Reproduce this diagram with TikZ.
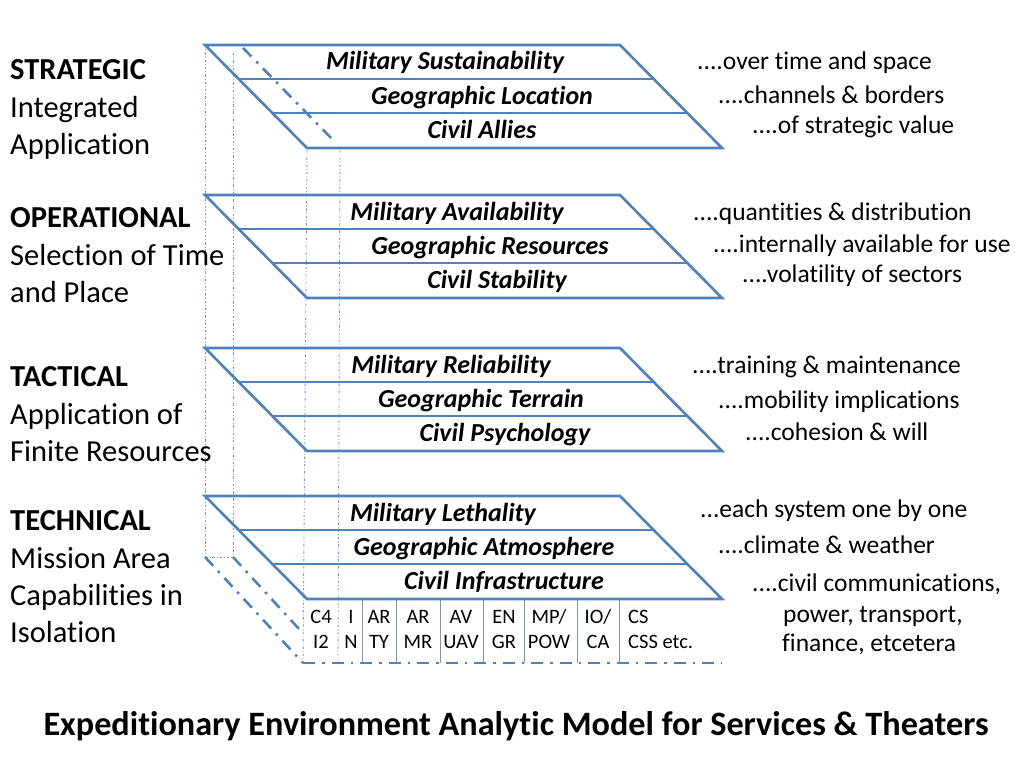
\documentclass[tikz,border=0pt]{standalone}
\usepackage{fontspec}
\setmainfont{Carlito}[Ligatures=NoCommon]
\definecolor{lineblue}{HTML}{4F81BD}
\definecolor{thinblue}{HTML}{7F9CC0}
\begin{document}
\begin{tikzpicture}[x=1pt,y=-1pt,
  layer/.style={draw=lineblue,line width=2.6pt,line join=miter},
  row/.style={draw=lineblue,line width=2.6pt},
  hidden/.style={draw=thinblue,line width=0.9pt,dash pattern=on 2.5pt off 2pt on 0.8pt off 2pt},
  thickdd/.style={draw=lineblue,line width=2.6pt,dash pattern=on 12pt off 7pt on 2.5pt off 7pt},
  divider/.style={draw=thinblue!80!gray,line width=0.9pt},
  lefthead/.style={anchor=base west,font=\fontsize{30.5}{32}\selectfont\bfseries,inner sep=0pt},
  leftsub/.style={anchor=base west,font=\fontsize{30.5}{32}\selectfont,inner sep=0pt},
  lab/.style={anchor=base,font=\fontsize{26}{28}\selectfont\bfseries\itshape,inner sep=0pt},
  rt/.style={anchor=base west,font=\fontsize{25.5}{27}\selectfont,inner sep=0pt},
  col/.style={anchor=base,font=\fontsize{20.5}{22}\selectfont,inner sep=0pt},
  colw/.style={anchor=base west,font=\fontsize{20.5}{22}\selectfont,inner sep=0pt},
  ttl/.style={anchor=base,font=\fontsize{34.2}{36}\selectfont\bfseries,inner sep=0pt}
]
\useasboundingbox[fill=white] (0,0) rectangle (1024,768);

% hidden vertical edges
\coordinate (va1) at (205,45);  \coordinate (va2) at (205,557);
\coordinate (vb1) at (233,53);  \coordinate (vb2) at (233,557);
\coordinate (vc1) at (307,150); \coordinate (vc2) at (303,663);
\coordinate (vd1) at (340,150); \coordinate (vd2) at (338,663);
\draw[hidden] (va1) -- (va2);
\draw[hidden] (vb1) -- (vb2);
\draw[hidden] (vc1) -- (vc2);
\draw[hidden] (vd1) -- (vd2);
\draw[hidden] (va2) -- (vb2);

% dash-dot in strategic layer
\coordinate (dd1) at (243,48); \coordinate (dd2) at (335,142);
\draw[thickdd] (dd1) -- (dd2);

% bottom box dash-dot lines
\coordinate (bd1) at (300,630);
\coordinate (bb1) at (303,663); \coordinate (bb2) at (722,663);
\draw[thickdd] (va2) -- (bb1);
\draw[thickdd] (vb2) -- (bd1);
\draw[thickdd] (bb1) -- (bb2);

% column dividers
\foreach \x/\n in {362/a,396/b,440/c,483/d,524/e,577/f,619/g}{
  \coordinate (dt\n) at (\x,598); \coordinate (db\n) at (\x,663);
  \draw[divider] (dt\n) -- (db\n);
}

% layers
\foreach \t/\n in {45/s,195/o,348/t,496/x}{
  \coordinate (\n1) at (205,\t);
  \coordinate (\n2) at (620,\t);
  \coordinate (\n3) at (722,\t+103);
  \coordinate (\n4) at (307,\t+103);
  \coordinate (\n5) at (239,\t+34);
  \coordinate (\n6) at (654,\t+34);
  \coordinate (\n7) at (273,\t+68);
  \coordinate (\n8) at (688,\t+68);
  \draw[layer] (\n1) -- (\n2) -- (\n3) -- (\n4) -- cycle;
  \draw[row] (\n5) -- (\n6);
  \draw[row] (\n7) -- (\n8);
}

% left labels
\node[lefthead] (L1) at (10,79) {STRATEGIC};
\node[leftsub] (L2) at (10,117) {Integrated};
\node[leftsub] (L3) at (10,154) {Application};
\node[lefthead] (L4) at (10,227) {OPERATIONAL};
\node[leftsub] (L5) at (10,265) {Selection of Time};
\node[leftsub] (L6) at (10,302) {and Place};
\node[lefthead] (L7) at (10,386) {TACTICAL};
\node[leftsub] (L8) at (10,424) {Application of};
\node[leftsub] (L9) at (10,461) {Finite Resources};
\node[lefthead] (L10) at (10,530) {TECHNICAL};
\node[leftsub] (L11) at (10,568) {Mission Area};
\node[leftsub] (L12) at (10,605) {Capabilities in};
\node[leftsub] (L13) at (10,642) {Isolation};

% layer labels
\node[lab] (S1) at (445,70) {Military Sustainability};
\node[lab] (S2) at (482,104) {Geographic Location};
\node[lab] (S3) at (482,138) {Civil Allies};
\node[lab] (O1) at (457,220) {Military Availability};
\node[lab] (O2) at (490,254) {Geographic Resources};
\node[lab] (O3) at (497,288) {Civil Stability};
\node[lab] (T1) at (451,373) {Military Reliability};
\node[lab] (T2) at (481,407) {Geographic Terrain};
\node[lab] (T3) at (505,441) {Civil Psychology};
\node[lab] (X1) at (443,521) {Military Lethality};
\node[lab] (X2) at (484,555) {Geographic Atmosphere};
\node[lab] (X3) at (504,589) {Civil Infrastructure};

% right texts
\node[rt] (R1) at (697,70) {....over time and space};
\node[rt] (R2) at (718,103) {....channels \& borders};
\node[rt] (R3) at (752,133) {....of strategic value};
\node[rt] (R4) at (693,220) {....quantities \& distribution};
\node[rt] (R5) at (713,252) {....internally available for use};
\node[rt] (R6) at (742,282) {....volatility of sectors};
\node[rt] (R7) at (692,373) {....training \& maintenance};
\node[rt] (R8) at (718,408) {....mobility implications};
\node[rt] (R9) at (745,440) {....cohesion \& will};
\node[rt] (R10) at (700,517) {...each system one by one};
\node[rt] (R11) at (718,553) {....climate \& weather};
\node[rt] (R12) at (752,591) {....civil communications,};
\node[rt] (R13) at (783,622) {power, transport,};
\node[rt] (R14) at (782,651) {finance, etcetera};

% column labels
\node[col] (C1a) at (321,623) {C4};  \node[col] (C1b) at (321,648) {I2};
\node[col] (C2a) at (351,623) {I};   \node[col] (C2b) at (351,648) {N};
\node[col] (C3a) at (379,623) {AR};  \node[col] (C3b) at (379,648) {TY};
\node[col] (C4a) at (418,623) {AR};  \node[col] (C4b) at (418,648) {MR};
\node[col] (C5a) at (461,623) {AV};  \node[col] (C5b) at (461,648) {UAV};
\node[col] (C6a) at (504,623) {EN};  \node[col] (C6b) at (504,648) {GR};
\node[col] (C7a) at (549,623) {MP/}; \node[col] (C7b) at (549,648) {POW};
\node[col] (C8a) at (598,623) {IO/}; \node[col] (C8b) at (598,648) {CA};
\node[colw] (C9a) at (628,623) {CS}; \node[colw] (C9b) at (628,648) {CSS etc.};

% title
\node[ttl] (title) at (516,735) {Expeditionary Environment Analytic Model for Services \& Theaters};
\end{tikzpicture}
\end{document}
